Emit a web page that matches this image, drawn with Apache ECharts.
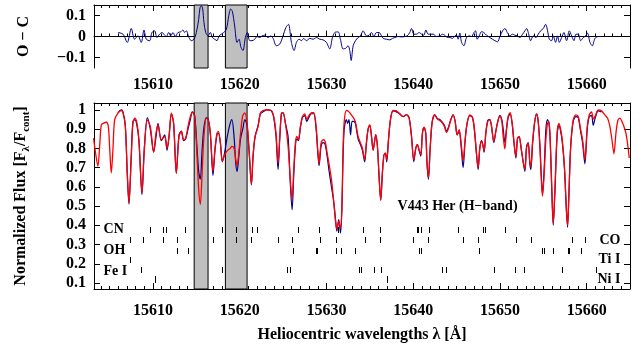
<!DOCTYPE html>
<html><head><meta charset="utf-8">
<script src="https://cdn.jsdelivr.net/npm/echarts@6/dist/echarts.min.js"></script>
<style>html,body{margin:0;padding:0;background:#fff}#c{width:640px;height:348px}</style>
</head><body><div id="c"></div>
<script>
// wavelength grid (Angstrom) with model (red) and observed (blue) normalized flux
const wave = [15603.15,15603.38,15603.65,15603.85,15604.04,15604.31,15604.62,15604.85,15605.0,15605.19,15605.38,15605.58,15605.96,15606.35,15606.54,15606.81,15607.04,15607.23,15607.5,15607.69,15607.92,15608.15,15608.38,15608.73,15609.0,15609.35,15609.69,15610.08,15610.35,15610.58,15610.96,15611.35,15611.62,15611.85,15612.12,15612.38,15612.69,15613.0,15613.27,15613.54,15613.77,15614.04,15614.31,15614.54,15614.81,15615.08,15615.27,15615.46,15615.65,15615.85,15616.15,15616.38,15616.62,15616.92,15617.15,15617.38,15617.54,15617.77,15618.0,15618.27,15618.6,15618.9,15619.1,15619.35,15619.55,15619.7,15619.9,15620.1,15620.35,15620.6,15620.85,15621.1,15621.35,15621.54,15621.77,15622.12,15622.38,15622.69,15623.15,15623.65,15623.92,15624.19,15624.42,15624.62,15624.81,15625.0,15625.27,15625.58,15625.81,15626.04,15626.23,15626.42,15626.58,15626.77,15627.0,15627.23,15627.5,15627.73,15627.96,15628.27,15628.54,15628.81,15629.0,15629.15,15629.38,15629.62,15629.85,15630.08,15630.31,15630.58,15630.85,15631.05,15631.2,15631.42,15631.62,15631.78,15631.92,15632.05,15632.3,15632.45,15632.6,15632.78,15632.95,15633.1,15633.33,15633.65,15633.92,15634.15,15634.41,15634.6,15634.8,15635.0,15635.2,15635.38,15635.53,15635.68,15635.88,15636.07,15636.26,15636.45,15636.65,15636.8,15636.95,15637.15,15637.38,15637.68,15638.07,15638.45,15638.84,15639.22,15639.53,15639.8,15640.07,15640.3,15640.49,15640.68,15640.88,15641.07,15641.26,15641.45,15641.6,15641.76,15641.95,15642.18,15642.49,15642.8,15643.07,15643.38,15643.6,15643.84,15644.07,15644.34,15644.61,15644.84,15645.07,15645.3,15645.53,15645.76,15645.99,15646.22,15646.53,15646.84,15647.07,15647.3,15647.49,15647.68,15647.88,15648.03,15648.18,15648.38,15648.6,15648.84,15649.03,15649.3,15649.53,15649.76,15649.99,15650.22,15650.38,15650.57,15650.76,15650.95,15651.18,15651.41,15651.6,15651.84,15652.03,15652.22,15652.45,15652.68,15652.88,15653.07,15653.26,15653.45,15653.57,15653.76,15653.99,15654.22,15654.41,15654.61,15654.76,15654.91,15655.11,15655.3,15655.49,15655.65,15655.8,15655.99,15656.15,15656.35,15656.6,15656.8,15657.0,15657.2,15657.45,15657.65,15657.8,15657.95,15658.15,15658.45,15658.76,15659.03,15659.3,15659.53,15659.8,15660.07,15660.3,15660.57,15660.76,15661.0,15661.34,15661.72,15662.1,15662.42,15662.68,15662.92,15663.15,15663.38,15663.6,15663.84,15664.07,15664.3,15664.53,15664.76,15664.91];
const model = [0.853,0.776,0.707,0.81,0.922,0.931,0.936,0.914,0.81,0.672,0.79,0.948,0.983,0.997,0.986,0.914,0.672,0.517,0.759,0.931,0.957,0.931,0.845,0.569,0.79,0.948,0.914,0.781,0.879,0.922,0.845,0.862,0.80,0.862,0.983,0.931,0.672,0.862,0.888,0.845,0.853,0.914,0.966,0.988,0.966,0.759,0.586,0.509,0.655,0.845,0.957,0.948,0.879,0.681,0.80,0.879,0.888,0.828,0.733,0.767,0.79,0.80,0.81,0.80,0.74,0.71,0.78,0.88,0.97,0.985,0.93,0.78,0.612,0.759,0.862,0.914,0.983,0.997,1.0,0.997,0.966,0.879,0.724,0.862,0.983,0.986,0.931,0.81,0.655,0.534,0.69,0.828,0.862,0.845,0.914,0.966,0.979,0.952,0.969,0.986,0.986,0.914,0.79,0.721,0.828,0.845,0.836,0.776,0.716,0.638,0.517,0.42,0.38,0.42,0.385,0.50,0.80,0.94,0.997,0.995,0.99,0.98,0.969,0.96,0.94,0.862,0.828,0.80,0.741,0.828,0.897,0.922,0.862,0.793,0.828,0.871,0.81,0.655,0.531,0.672,0.767,0.776,0.741,0.845,0.948,0.997,0.995,0.979,0.966,0.976,0.957,0.862,0.741,0.80,0.819,0.793,0.767,0.879,0.91,0.879,0.724,0.647,0.793,0.931,0.974,0.952,0.945,0.931,0.914,0.883,0.905,0.948,0.974,0.94,0.871,0.897,0.828,0.738,0.845,0.931,0.974,0.962,0.897,0.776,0.698,0.80,0.836,0.819,0.784,0.879,0.94,0.948,0.917,0.836,0.888,0.94,0.969,0.94,0.862,0.797,0.897,0.966,0.986,0.931,0.845,0.759,0.853,0.862,0.80,0.733,0.69,0.80,0.828,0.733,0.703,0.828,0.931,0.979,0.94,0.81,0.655,0.552,0.672,0.845,0.931,0.94,0.845,0.586,0.41,0.6,0.88,0.93,0.90,0.84,0.70,0.50,0.40,0.55,0.80,0.948,0.974,0.966,0.90,0.845,0.741,0.914,0.974,0.99,0.952,0.969,1.0,0.995,0.974,0.957,0.914,0.845,0.772,0.879,0.945,0.957,0.94,0.914,0.879,0.81,0.75];
const observed = [null,null,null,null,null,null,null,null,null,null,null,null,0.985,1.0,0.99,0.92,0.66,0.51,0.77,0.94,0.95,0.92,0.84,0.56,0.80,0.96,0.90,0.78,0.86,0.93,0.84,0.87,0.79,0.86,0.98,0.93,0.67,0.87,0.89,0.84,0.85,0.90,0.95,0.99,0.97,0.80,0.68,0.64,0.78,0.90,0.96,0.95,0.87,0.66,0.79,0.87,0.88,0.83,0.73,0.78,0.87,0.93,0.95,0.86,0.72,0.68,0.76,0.85,0.90,0.95,0.92,0.77,0.61,0.76,0.86,0.92,0.98,0.99,1.0,0.995,0.96,0.86,0.69,0.85,0.98,0.985,0.93,0.86,0.64,0.48,0.66,0.81,0.85,0.84,0.91,0.96,0.97,0.94,0.96,0.98,0.98,0.90,0.78,0.71,0.81,0.83,0.82,0.76,0.68,0.60,0.52,0.43,0.37,0.43,0.36,0.48,0.76,0.90,0.95,0.93,0.95,0.87,0.94,0.94,0.93,0.85,0.82,0.79,0.73,0.82,0.90,0.92,0.86,0.79,0.83,0.87,0.81,0.65,0.53,0.67,0.77,0.77,0.73,0.84,0.95,0.995,0.99,0.98,0.965,0.975,0.96,0.87,0.73,0.80,0.82,0.79,0.76,0.88,0.91,0.88,0.72,0.64,0.79,0.935,0.975,0.955,0.95,0.935,0.92,0.89,0.91,0.95,0.975,0.94,0.87,0.89,0.81,0.70,0.84,0.93,0.97,0.96,0.89,0.77,0.69,0.80,0.84,0.82,0.78,0.88,0.945,0.95,0.915,0.83,0.89,0.94,0.97,0.95,0.90,0.83,0.90,0.96,0.98,0.93,0.84,0.75,0.85,0.86,0.80,0.73,0.68,0.81,0.83,0.72,0.69,0.82,0.93,0.98,0.945,0.82,0.67,0.56,0.70,0.90,0.95,0.93,0.84,0.57,0.40,0.58,0.87,0.92,0.89,0.83,0.69,0.49,0.39,0.55,0.80,0.94,0.965,0.96,0.89,0.83,0.72,0.90,0.965,0.97,0.92,0.96,0.995,0.99,null,null,null,null,null,null,null,null,null,null,null,null,null];
// O - C residuals
const ocWave = [15605.96,15606.54,15607.04,15607.5,15607.88,15608.27,15608.65,15608.96,15609.23,15609.62,15609.88,15610.19,15610.46,15610.77,15611.04,15611.35,15611.54,15611.81,15612.04,15612.31,15612.58,15612.88,15613.19,15613.46,15613.65,15613.85,15614.15,15614.42,15614.73,15615.0,15615.27,15615.42,15615.58,15615.73,15615.88,15616.08,15616.35,15616.62,15616.85,15617.12,15617.38,15617.62,15617.88,15618.15,15618.46,15618.73,15618.96,15619.15,15619.42,15619.69,15619.92,15620.15,15620.38,15620.65,15620.88,15621.15,15621.42,15621.73,15622.0,15622.31,15622.58,15622.88,15623.27,15623.58,15623.85,15624.23,15624.62,15625.0,15625.31,15625.62,15625.96,15626.27,15626.54,15626.85,15627.12,15627.38,15627.69,15628.08,15628.46,15628.85,15629.23,15629.61,15630.0,15630.38,15630.69,15630.96,15631.35,15631.61,15631.92,15632.23,15632.5,15632.69,15632.85,15633.08,15633.35,15633.65,15633.92,15634.23,15634.61,15634.92,15635.19,15635.46,15635.77,15636.08,15636.35,15636.54,15636.92,15637.31,15637.61,15637.88,15638.27,15638.65,15639.04,15639.31,15639.61,15639.81,15640.08,15640.38,15640.69,15640.96,15641.23,15641.46,15641.73,15642.0,15642.31,15642.69,15643.08,15643.38,15643.65,15643.96,15644.23,15644.54,15644.81,15645.0,15645.19,15645.38,15645.58,15645.85,15646.15,15646.46,15646.73,15647.0,15647.19,15647.38,15647.61,15647.88,15648.15,15648.46,15648.85,15649.15,15649.42,15649.73,15650.0,15650.31,15650.58,15650.85,15651.15,15651.46,15651.73,15652.0,15652.31,15652.61,15652.88,15653.08,15653.27,15653.54,15653.85,15654.15,15654.42,15654.69,15655.0,15655.27,15655.5,15655.69,15655.96,15656.15,15656.42,15656.65,15656.85,15657.12,15657.38,15657.69,15658.0,15658.27,15658.54,15658.77,15659.04,15659.31,15659.61,15659.88,15660.11,15660.38,15660.65,15660.96,15661.35,15661.73];
const ocVal = [0.019,0.011,-0.028,0.038,-0.013,0.003,-0.028,0.031,-0.013,-0.02,0.019,0.027,-0.005,0.011,0.019,0.006,0,0.019,0.003,0.019,0,0.019,0.022,0.031,0.019,0.027,-0.005,-0.02,-0.013,0.019,0.081,0.136,0.147,0.131,0.066,0.019,0.003,0.019,-0.005,-0.013,-0.02,0.003,0.011,0.019,0.034,0.097,0.131,0.12,0.05,-0.028,-0.013,-0.052,-0.067,-0.005,0.019,-0.02,-0.02,-0.013,0,-0.005,0.003,0.006,-0.005,0.003,-0.009,-0.044,-0.036,0.003,0.042,0.058,-0.028,-0.067,-0.028,-0.013,-0.02,-0.009,-0.02,-0.009,-0.013,-0.005,-0.013,-0.016,-0.028,-0.059,-0.005,0.019,0.022,-0.013,-0.059,-0.056,-0.044,-0.067,-0.114,-0.044,-0.02,-0.005,0.003,0.027,0.003,0.006,0.019,0,0.019,0.019,0.003,-0.009,-0.013,-0.016,-0.009,-0.005,0,-0.002,0,0.003,0.019,0.038,0.011,0.011,0.019,0.011,0.006,0.031,0.011,0.011,0.011,0,0.003,0.011,0.006,-0.005,-0.005,-0.009,0.003,0.006,-0.013,0.016,-0.028,-0.044,-0.005,0.003,0,0.019,0.027,-0.013,0.003,0.023,0.019,0.006,-0.005,-0.013,-0.02,-0.025,0,0.027,0.038,0.019,0.003,0.011,0.006,0.003,-0.005,0.011,0.027,0.038,0.019,-0.02,0.003,-0.005,0.011,0.027,0.038,0.058,0.027,-0.013,-0.02,0.003,-0.028,0.003,-0.028,-0.005,0.019,-0.02,0.027,0.003,-0.02,0.011,0.011,-0.02,-0.005,0.003,0.016,-0.028,-0.044,-0.009,0,0];
// masked regions
const maskRegions = [[15614.75, 15616.35], [15618.35, 15620.85]];
// line list (wavelengths) and row levels
const lineCN = [15609.6,15611.1,15611.55,15613.65,15618.0,15619.6,15621.45,15622.0,15626.7,15629.15,15631.3,15634.2,15636.2,15640.4,15640.6,15640.85,15641.8,15645.2,15648.1,15648.3,15650.6];
const lineCO = [15607.3,15608.8,15611.1,15612.8,15616.9,15619.6,15621.3,15624.4,15626.0,15629.2,15631.1,15634.5,15636.2,15640.0,15641.7,15645.8,15647.5,15651.9,15653.6,15658.3,15659.8];
const lineOH = [15612.8,15614.0,15626.1,15628.8,15628.95,15631.15,15631.7,15633.35,15640.7,15640.9,15647.6,15654.9,15655.1,15656.1,15657.8,15658.0,15659.3];
const lineTi = [15607.3];
const lineFe = [15608.65,15618.0,15625.5,15625.85,15633.75,15633.95,15635.5,15636.3,15643.3,15643.8,15649.3,15651.7,15652.8,15657.2,15661.1];
const lineNi = [15610.2,15637.0];
const rowLevels = {CN:0.376, CO:0.324, OH:0.268, Ti:0.222, Fe:0.169, Ni:0.12};
const speciesLeft = [['CN',0.38],['OH',0.268],['Fe I',0.158]];
const speciesRight = [['CO',0.322],['Ti I',0.222],['Ni I',0.118]];
const xTicks = [15610,15620,15630,15640,15650,15660];
const fluxTicks = [0.1,0.2,0.3,0.4,0.5,0.6,0.7,0.8,0.9,1];
const ocTicks = [-0.1,0,0.1];
const starLabel = 'V443 Her (H\u2212band)';

const XMIN = 15603.2, XMAX = 15665;
const minorTicks = [];
for (let v = Math.ceil(XMIN); v <= XMAX; v++) if (xTicks.indexOf(v) < 0) minorTicks.push(v);

const FONT = 'Liberation Serif';
const fmtNum = v => (v < 0 ? '\u2212' : '') + String(+Math.abs(v).toFixed(2));

function xAxes(grid, showLabels) {
  const base = {type:'value', gridIndex:grid, min:XMIN, max:XMAX, splitLine:{show:false}};
  return [
    Object.assign({}, base, {position:'bottom', axisLine:{show:true, lineStyle:{color:'#000', width:1}},
      axisTick:{show:true, inside:true, length:6, customValues:xTicks, lineStyle:{color:'#000'}},
      axisLabel:{show:showLabels, customValues:xTicks, margin: grid===0 ? 9 : 14, color:'#000', fontFamily:FONT, fontWeight:'bold', fontSize:16, formatter:v=>String(v)}}),
    Object.assign({}, base, {position:'bottom', axisLine:{show:false},
      axisTick:{show:true, inside:true, length:3, customValues:minorTicks, lineStyle:{color:'#000'}}, axisLabel:{show:false}}),
    Object.assign({}, base, {position:'top', axisLine:{show:true, lineStyle:{color:'#000', width:1}},
      axisTick:{show:true, inside:true, length:6, customValues:xTicks, lineStyle:{color:'#000'}}, axisLabel:{show:false}}),
    Object.assign({}, base, {position:'top', axisLine:{show:false},
      axisTick:{show:true, inside:true, length:3, customValues:minorTicks, lineStyle:{color:'#000'}}, axisLabel:{show:false}})
  ];
}
function yAxes(grid, min, max, ticks, nameObj) {
  const base = {type:'value', gridIndex:grid, min:min, max:max, splitLine:{show:false}};
  return [
    Object.assign({}, base, {position:'left', axisLine:{show:true, lineStyle:{color:'#000'}},
      axisTick:{show:true, inside:true, length:6, customValues:ticks, lineStyle:{color:'#000'}},
      axisLabel:{show:true, customValues:ticks, margin:8, color:'#000', fontFamily:FONT, fontWeight:'bold', fontSize:16, formatter:fmtNum}}, nameObj),
    Object.assign({}, base, {position:'right', axisLine:{show:true, lineStyle:{color:'#000'}},
      axisTick:{show:true, inside:true, length:6, customValues:ticks, lineStyle:{color:'#000'}}, axisLabel:{show:false}})
  ];
}

const maskData = maskRegions.map(r => [{xAxis:r[0]}, {xAxis:r[1]}]);
const maskStyle = {color:'#bfbfbf', borderColor:'#000', borderWidth:1, opacity:1};

function lineTicks(arr, level, size) {
  return arr.map(w => [w, level, size]);
}
const tickData = [].concat(
  lineTicks(lineCN, rowLevels.CN, 6), lineTicks(lineCO, rowLevels.CO, 6), lineTicks(lineOH, rowLevels.OH, 6),
  lineTicks(lineTi, rowLevels.Ti, 6), lineTicks(lineFe, rowLevels.Fe, 6), lineTicks(lineNi, rowLevels.Ni, 7));

const labelStyle = {color:'#000', fontFamily:FONT, fontWeight:'bold', fontSize:14};

const option = {
  animation:false,
  backgroundColor:'#fff',
  grid:[
    {left:94, right:10, top:5, height:63},
    {left:94, right:10, top:103, height:187}
  ],
  xAxis: [].concat(xAxes(0, true), xAxes(1, true).map((a,i)=> i===0 ? Object.assign(a, {
      name:'Heliocentric wavelengths \u03bb [\u00c5]', nameLocation:'middle', nameGap:38,
      nameTextStyle:{color:'#000', fontFamily:FONT, fontWeight:'bold', fontSize:16}}) : a)),
  yAxis: [].concat(
    yAxes(0, -0.15, 0.15, ocTicks, {name:'O \u2212 C', nameLocation:'middle', nameRotate:90, nameGap:62,
      nameTextStyle:{color:'#000', fontFamily:FONT, fontWeight:'bold', fontSize:16}}),
    yAxes(1, 0.069, 1.036, fluxTicks, {name:'{a|Normalized Flux [F}{b|\u03bb}{a|/F}{b|cont}{a|]}', nameLocation:'middle', nameRotate:90, nameGap:62,
      nameTextStyle:{rich:{
        a:{color:'#000', fontFamily:FONT, fontWeight:'bold', fontSize:16, lineHeight:22, verticalAlign:'middle'},
        b:{color:'#000', fontFamily:FONT, fontWeight:'bold', fontSize:11, lineHeight:12, verticalAlign:'bottom'}}}})
  ),
  series:[
    {type:'line', xAxisIndex:0, yAxisIndex:0, data:[], z:1, silent:true,
      markArea:{silent:true, itemStyle:maskStyle, data:maskData}},
    {type:'line', name:'O-C', xAxisIndex:0, yAxisIndex:0, z:3, showSymbol:false, smooth:0.3,
      lineStyle:{color:'#00008b', width:1}, data: ocWave.map((w,i)=>[w, ocVal[i]])},
    {type:'line', xAxisIndex:4, yAxisIndex:2, data:[], z:1, silent:true,
      markArea:{silent:true, itemStyle:maskStyle, data:maskData}},
    {type:'line', name:'observed', xAxisIndex:4, yAxisIndex:2, z:3, showSymbol:false, smooth:0.3,
      lineStyle:{color:'#00008b', width:1.2},
      data: wave.map((w,i)=>[w, observed[i]]).filter(p=>p[1]!==null)},
    {type:'line', name:'model', xAxisIndex:4, yAxisIndex:2, z:4, showSymbol:false, smooth:0.3,
      lineStyle:{color:'#ff0000', width:1.3}, data: wave.map((w,i)=>[w, model[i]])},
    {type:'custom', name:'line list', xAxisIndex:4, yAxisIndex:2, z:5, silent:true,
      renderItem:(params, api) => {
        const p = api.coord([api.value(0), api.value(1)]);
        const h = api.value(2) / 2;
        const x = Math.round(p[0]) + 0.5;
        return {type:'line', shape:{x1:x, y1:Math.round(p[1] - h), x2:x, y2:Math.round(p[1] + h)},
          style:{stroke:'#000', lineWidth:1}};
      },
      data: tickData},
    {type:'scatter', xAxisIndex:4, yAxisIndex:2, z:6, symbolSize:0, itemStyle:{opacity:1},
      label:Object.assign({show:true, position:'right', distance:0, formatter:p=>p.data[2]}, labelStyle),
      data: speciesLeft.map(s=>[15604.3, s[1], s[0]]).concat([[15638.2, 0.5, starLabel]])},
    {type:'scatter', xAxisIndex:4, yAxisIndex:2, z:6, symbolSize:0, itemStyle:{opacity:1},
      label:Object.assign({show:true, position:'left', distance:0, formatter:p=>p.data[2]}, labelStyle),
      data: speciesRight.map(s=>[15663.9, s[1], s[0]])}
  ]
};
const chart = echarts.init(document.getElementById('c'), null, {renderer:'canvas'});
chart.setOption(option);
</script>
</body></html>
